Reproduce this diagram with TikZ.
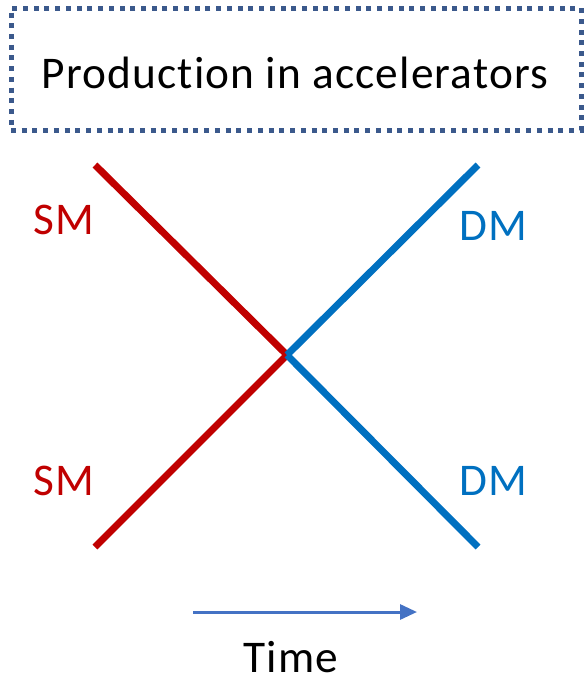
\documentclass[tikz,border=0pt]{standalone}
\usepackage{fontspec}
\setmainfont[Ligatures=NoCommon, LetterSpace=2.5]{Carlito}
\usepackage{tikz}
\usetikzlibrary{arrows.meta,positioning}
\definecolor{smred}{RGB}{192,0,0}
\definecolor{dmblue}{RGB}{0,112,192}
\definecolor{timeblue}{RGB}{68,114,196}
\definecolor{boxblue}{RGB}{59,89,140}

\begin{document}
\begin{tikzpicture}[x=0.75pt, y=-0.75pt,
  every node/.style={font=\fontsize{34}{40}\selectfont, inner sep=0pt},
  titlebox/.style={draw=boxblue, line width=3.75pt,
                   dash pattern=on 3.75pt off 4.3pt,
                   minimum width=427.5pt, minimum height=91.5pt},
  sm/.style={text=smred},
  dm/.style={text=dmblue},
  smline/.style={draw=smred, line width=5.25pt},
  dmline/.style={draw=dmblue, line width=5.25pt},
  arrow/.style={-{Triangle[length=12.75pt, width=11.25pt]}, draw=timeblue, line width=2.25pt},
]
\useasboundingbox (0,0) rectangle (584,679);

%% ── Title box ──────────────────────────────────────────────────────────
\node[titlebox] (box) at (296,69) {};
\node (title) at (295,73) {Production in accelerators};

%% ── Vertex and line ends ───────────────────────────────────────────────
\coordinate (vtx) at (287,355);
\coordinate (smin1) at (95,165);
\coordinate (smin2) at (95,547);
\coordinate (dmout1) at (478,165);
\coordinate (dmout2) at (478,547);

%% ── Lines ──────────────────────────────────────────────────────────────
\draw[smline] (smin1) -- (vtx);
\draw[smline] (smin2) -- (vtx);
\draw[dmline] (vtx) -- (dmout1);
\draw[dmline] (vtx) -- (dmout2);

%% ── Labels ─────────────────────────────────────────────────────────────
\node[sm] (sm1) at (63.5,220) {SM};
\node[sm] (sm2) at (63.5,481) {SM};
\node[dm] (dm1) at (493.5,225.5) {DM};
\node[dm] (dm2) at (493.5,480.5) {DM};

%% ── Time arrow ─────────────────────────────────────────────────────────
\coordinate (tstart) at (193,612);
\coordinate (tend) at (417,612);
\draw[arrow] (tstart) -- (tend);
\node (time) at (291,657) {Time};

\end{tikzpicture}
\end{document}
